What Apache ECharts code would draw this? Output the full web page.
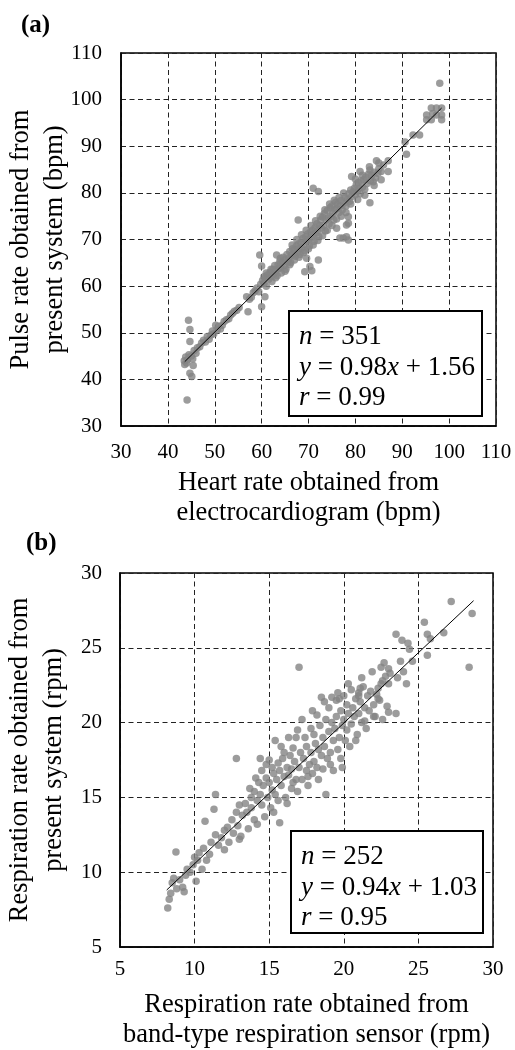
<!DOCTYPE html>
<html><head><meta charset="utf-8">
<script src="https://cdn.jsdelivr.net/npm/echarts@6/dist/echarts.min.js"></script>
<style>html,body{margin:0;padding:0;background:#fff}#c{width:515px;height:1050px}</style>
</head><body><div id="c"></div>
<script>
// ---------- DATA ----------
const panelLabels = ['(a)', '(b)'];
const titlesA = { x: 'Heart rate obtained from\nelectrocardiogram (bpm)', y: 'Pulse rate obtained from\npresent system (bpm)' };
const titlesB = { x: 'Respiration rate obtained from\nband-type respiration sensor (rpm)', y: 'Respiration rate obtained from\npresent system (rpm)' };
const statsA = { n: '351', eq: '0.98x + 1.56', r: '0.99' };
const statsB = { n: '252', eq: '0.94x + 1.03', r: '0.95' };
const rangeA = [30, 110, 10];
const rangeB = [5, 30, 5];

// Pulse (a): [ECG heart rate, present-system pulse rate]
const pulsePoints = [
[43.5,44.0],[43.6,43.2],[43.8,44.8],[44.0,43.5],[44.1,35.6],[44.2,44.2],[44.4,52.7],[44.7,50.7],[44.7,48.1],[44.7,41.3],
[45.1,40.6],[45.4,43.0],[44.5,45.3],[45.0,45.0],[45.3,44.4],[45.6,46.2],[46.0,45.6],[46.3,46.8],[46.8,47.0],[47.2,47.8],
[47.6,48.4],[48.0,48.0],[48.4,49.2],[48.8,48.6],[49.2,49.5],[49.5,50.4],[49.8,49.8],[50.2,51.6],[50.5,50.6],[50.8,51.4],
[51.2,50.8],[51.6,51.6],[52.0,52.4],[52.5,52.8],[53.0,53.0],[53.4,53.8],[53.8,54.2],[54.2,54.6],[54.7,54.8],[55.2,55.4],
[56.8,57.7],[57.1,54.5],[57.4,57.2],[57.8,57.6],[58.2,58.6],[58.6,59.0],[59.0,59.6],[59.4,58.8],[59.6,66.7],[59.8,60.4],
[60.0,55.6],[60.0,64.3],[60.2,61.2],[60.5,60.6],[60.7,57.7],[60.8,61.8],[61.0,60.0],[61.2,62.4],[61.5,61.5],[61.8,63.0],
[62.0,62.0],[62.2,61.0],[62.4,63.6],[62.6,62.6],[62.8,64.4],[63.0,63.2],[63.2,66.7],[63.3,62.2],[63.5,64.6],[63.7,63.8],
[63.9,65.4],[64.0,64.0],[64.2,62.8],[64.4,65.0],[64.6,66.2],[64.8,64.4],[65.0,65.6],[65.2,63.6],[65.4,66.8],[65.6,65.2],
[65.8,66.0],[66.0,67.4],[66.2,65.0],[66.4,66.6],[66.6,68.0],[66.8,67.0],[67.0,67.8],[67.2,66.4],[67.4,68.6],[67.6,67.2],
[67.8,74.2],[67.8,69.0],[68.0,68.0],[68.2,66.8],[68.4,69.4],[68.6,68.2],[68.8,70.2],[69.0,69.0],[69.2,63.1],[69.2,67.6],
[69.4,70.6],[69.6,66.0],[69.6,69.6],[69.8,71.2],[70.0,70.0],[70.2,68.6],[70.3,64.2],[70.4,71.6],[70.6,70.4],[70.7,63.3],
[70.8,72.0],[71.0,81.0],[71.0,71.0],[71.2,69.6],[71.4,72.6],[71.6,71.4],[71.8,73.4],[72.0,72.0],[72.1,80.3],[72.1,65.6],
[72.2,70.6],[72.4,73.0],[72.6,74.2],[72.8,72.4],[73.0,74.8],[73.2,73.0],[73.4,75.6],[73.6,71.8],[73.8,74.2],[74.0,76.2],
[74.2,74.6],[74.4,73.4],[74.6,76.8],[74.8,75.0],[75.0,77.2],[75.2,75.6],[75.4,74.2],[75.6,76.4],[75.8,78.0],[76.0,72.4],
[76.0,76.6],[76.2,77.6],[76.5,75.8],[76.7,70.3],[76.8,77.2],[77.0,78.4],[77.2,76.4],[77.4,70.3],[77.5,77.8],[77.8,79.0],
[78.0,77.2],[78.1,73.1],[78.1,70.6],[78.3,78.6],[78.5,73.5],[78.5,69.9],[78.5,74.9],[78.6,79.8],[78.8,78.2],[79.0,80.6],
[79.2,83.5],[79.2,79.2],[79.5,80.2],[79.8,81.0],[80.0,79.6],[80.2,81.8],[80.4,80.4],[80.6,82.2],[80.8,81.0],[81.0,84.6],
[81.0,79.8],[81.2,82.6],[81.5,81.2],[81.8,82.8],[82.0,80.8],[82.2,83.4],[82.5,82.0],[82.8,84.0],[83.1,84.9],[83.1,77.9],
[83.2,82.6],[83.5,83.8],[83.8,82.4],[84.0,84.4],[84.3,83.2],[84.5,86.9],[84.8,84.2],[85.0,85.2],[85.5,84.6],[86.0,86.0],
[87.0,86.9],[87.0,84.6],[90.6,90.9],[90.9,88.3],[92.3,92.4],[93.7,92.4],[95.2,96.7],[95.2,95.7],[96.2,98.2],[96.2,95.7],
[97.3,98.2],[97.3,96.7],[98.4,98.2],[98.4,96.7],[98.4,95.7],[96.5,97.0],[98.0,103.5],
[60.5,62.0],[61.0,62.8],[62.0,63.6],[63.0,61.8],[64.0,66.0],[65.0,63.2],[66.0,64.6],[66.5,68.8],[67.0,65.6],[67.5,70.0],
[68.0,66.2],[68.5,71.0],[69.0,67.2],[69.5,72.0],[70.0,68.0],[70.5,73.0],[71.0,68.8],[71.5,74.0],[72.0,69.8],[72.5,75.0],
[73.0,70.8],[73.5,76.4],[74.0,72.0],[74.5,77.6],[75.0,73.0],[75.5,78.4],[76.0,74.4],[76.5,79.0],[77.0,75.0],[77.5,80.0],
[78.0,75.8],[79.0,77.6],[80.0,83.0],[80.5,78.6],[81.5,83.8],[82.0,79.5],[83.0,85.6],[84.0,81.6],[85.0,86.4],[85.5,82.8]
];
const pulseFit = [[43.6,43.8],[98.4,98.2]];

// Respiration (b): [band sensor rate, present-system rate]
const respPoints = [
[8.2,7.6],[8.3,8.2],[8.4,8.6],[8.5,9.3],[8.6,9.6],[8.75,11.35],[8.8,8.9],[9.0,9.5],[9.2,9.0],[9.3,8.7],
[9.4,9.8],[9.5,10.2],[9.7,10.0],[9.9,10.5],[10.0,11.0],[10.1,9.4],[10.2,10.8],[10.3,11.3],[10.5,10.2],[10.6,11.6],
[10.7,13.4],[10.8,10.8],[11.0,11.2],[11.1,12.0],[11.3,14.2],[11.4,15.2],[11.4,12.5],[11.6,11.8],[11.8,12.3],[12.0,12.8],
[12.0,11.5],[12.2,13.0],[12.3,12.0],[12.5,13.5],[12.6,12.6],[12.8,17.6],[12.8,14.0],[12.9,13.1],[13.0,14.5],[13.1,12.4],
[13.2,13.8],[13.4,14.6],[13.5,14.0],[13.6,12.9],[13.8,15.0],[13.8,14.3],[14.0,13.5],[14.0,15.4],[14.1,16.3],[14.2,14.8],
[14.3,16.0],[14.4,15.2],[14.5,14.5],[14.5,16.8],[14.6,15.8],[14.7,13.7],[14.8,16.3],[14.9,15.0],[15.0,17.5],[15.0,16.0],
[15.1,14.3],[15.2,15.5],[15.2,17.0],[15.3,16.6],[15.4,18.8],[15.4,15.2],[15.5,16.2],[15.6,17.3],[15.7,13.3],[15.7,16.8],
[15.8,15.8],[15.9,17.6],[16.0,16.4],[16.0,18.0],[16.1,15.0],[16.2,17.0],[16.3,16.5],[16.3,19.0],[16.4,17.8],[16.5,15.6],
[16.5,16.9],[16.6,18.3],[16.7,17.4],[16.8,16.2],[16.9,19.5],[17.0,23.7],[17.0,17.0],[17.1,18.0],[17.2,16.2],[17.3,17.6],
[17.4,19.0],[17.5,16.8],[17.5,18.4],[17.6,15.8],[17.7,17.2],[17.8,19.6],[17.8,18.0],[17.9,16.6],[18.0,17.4],[18.0,19.2],
[18.1,18.6],[18.2,20.5],[18.2,17.0],[18.3,18.2],[18.4,19.8],[18.5,21.7],[18.5,17.8],[18.6,16.9],[18.6,19.0],[18.7,18.4],
[18.8,20.2],[18.8,15.2],[18.9,17.6],[19.0,19.4],[19.0,21.0],[19.1,18.0],[19.2,20.0],[19.2,21.7],[19.3,18.8],[19.3,16.8],
[19.4,19.6],[19.5,21.5],[19.5,20.4],[19.6,18.2],[19.7,19.0],[19.7,21.6],[19.8,20.8],[19.8,17.6],[19.9,19.8],[20.0,21.8],
[20.0,20.2],[20.1,18.8],[20.2,19.5],[20.2,21.2],[20.3,20.6],[20.4,18.4],[20.5,22.2],[20.5,19.9],[20.6,21.0],[20.7,20.4],
[20.8,21.6],[20.9,19.2],[21.0,22.0],[21.0,20.6],[21.0,21.8],[21.1,21.4],[21.1,22.3],[21.2,20.0],[21.3,22.4],[21.4,21.0],
[21.4,20.1],[21.5,19.6],[21.6,21.8],[21.7,20.8],[21.8,22.1],[22.0,21.2],[22.0,20.4],[22.1,20.4],[22.2,21.9],[22.3,22.3],
[22.3,21.6],[22.4,21.5],[22.5,23.7],[22.5,22.6],[22.6,22.8],[22.6,20.2],[22.8,23.1],[22.9,21.1],[23.0,23.6],[23.0,22.6],
[23.0,20.7],[23.1,23.3],[23.5,25.9],[23.5,20.6],[23.6,23.0],[23.8,24.1],[23.9,25.5],[24.0,23.4],[24.2,22.6],[24.3,25.3],
[24.4,24.9],[24.6,24.1],[25.4,26.7],[25.6,25.9],[25.6,24.5],[25.8,25.6],[26.7,26.0],[27.2,28.1],[28.6,27.3],[28.4,23.7],
[13.0,12.2],[13.7,15.6],[14.2,13.2],[14.8,17.2],[15.3,14.0],[15.8,18.4],[16.2,14.6],[16.6,16.0],[16.8,19.0],[17.2,20.2],
[17.6,16.4],[17.9,20.8],[18.3,16.2],[18.7,21.4],[19.1,17.2],[19.6,22.0],[19.9,17.0],[20.3,22.6],[20.8,18.8],[21.2,23.0],
[21.9,23.4],[22.7,24.0],[16.9,15.4],[15.6,14.8],[14.4,17.6]
];
const respFit = [[8.13,8.81],[28.7,28.15]];

// ---------- STYLE ----------
const FONT = "'Liberation Serif','Times New Roman',serif";
const dotColor = '#838383';
const chart = echarts.init(document.getElementById('c'), null, { renderer: 'canvas' });

function axis(kind, grid, r, title, labelMargin, nameGap) {
  const a = {
    type: 'value', gridIndex: grid, min: r[0], max: r[1], interval: r[2],
    name: title, nameLocation: 'middle', nameGap: nameGap, nameMoveOverlap: false,
    nameTextStyle: { fontFamily: FONT, fontSize: 26.5, color: '#000', lineHeight: kind === 'x' ? 30 : 34 },
    axisLine: { show: true, onZero: false, lineStyle: { color: '#000', width: 1.5 } },
    axisTick: { show: false },
    axisLabel: { fontFamily: FONT, fontSize: 21, color: '#000', margin: labelMargin },
    splitLine: { show: true, lineStyle: { color: '#222', width: 1, type: [5, 3.5] } }
  };
  if (kind === 'x') a.nameTextStyle.verticalAlign = 'top';
  return a;
}
function statsBox(x, y, w, h, s) {
  const rich = { i: { fontStyle: 'italic', fontFamily: FONT, fontSize: 27, fill: '#000' } };
  const base = { fontFamily: FONT, fontSize: 27, fill: '#000', verticalAlign: 'middle', rich: rich };
  return [
    { type: 'rect', shape: { x: x, y: y, width: w, height: h }, style: { fill: '#fff', stroke: '#000', lineWidth: 2 }, z: 100 },
    { type: 'text', x: x + 10, y: y + 26, style: Object.assign({ text: '{i|n} = ' + s.n }, base), z: 101 },
    { type: 'text', x: x + 10, y: y + 56.5, style: Object.assign({ text: '{i|y} = ' + s.eq.replace('x', '{i|x}') }, base), z: 101 },
    { type: 'text', x: x + 10, y: y + 87, style: Object.assign({ text: '{i|r} = ' + s.r }, base), z: 101 }
  ];
}

const option = {
  animation: false,
  backgroundColor: '#fff',
  grid: [
    { left: 121, top: 53, width: 375, height: 373, show: true, borderColor: '#000', borderWidth: 1.5, containLabel: false, outerBoundsMode: 'none' },
    { left: 120, top: 573, width: 373, height: 374, show: true, borderColor: '#000', borderWidth: 1.5, containLabel: false, outerBoundsMode: 'none' }
  ],
  xAxis: [ axis('x', 0, rangeA, titlesA.x, 16, 42), axis('x', 1, rangeB, titlesB.x, 12, 43.5) ],
  yAxis: [ axis('y', 0, rangeA, titlesA.y, 19, 49), axis('y', 1, rangeB, titlesB.y, 18, 49) ],
  series: [
    { type: 'scatter', xAxisIndex: 0, yAxisIndex: 0, data: pulsePoints, symbolSize: 7.5, itemStyle: { color: dotColor } },
    { type: 'line', xAxisIndex: 0, yAxisIndex: 0, data: pulseFit, showSymbol: false, symbol: 'none', lineStyle: { color: '#000', width: 1 }, z: 5 },
    { type: 'scatter', xAxisIndex: 1, yAxisIndex: 1, data: respPoints, symbolSize: 7.5, itemStyle: { color: dotColor } },
    { type: 'line', xAxisIndex: 1, yAxisIndex: 1, data: respFit, showSymbol: false, symbol: 'none', lineStyle: { color: '#000', width: 1 }, z: 5 }
  ],
  graphic: [
    { type: 'text', x: 21, y: 26, style: { text: panelLabels[0], fontFamily: FONT, fontSize: 25, fontWeight: 'bold', fill: '#000', verticalAlign: 'middle' } },
    { type: 'text', x: 26, y: 544, style: { text: panelLabels[1], fontFamily: FONT, fontSize: 25, fontWeight: 'bold', fill: '#000', verticalAlign: 'middle' } }
  ].concat(statsBox(289, 311, 193, 105, statsA)).concat(statsBox(291, 831, 192, 102, statsB))
};
chart.setOption(option);
</script>
</body></html>
